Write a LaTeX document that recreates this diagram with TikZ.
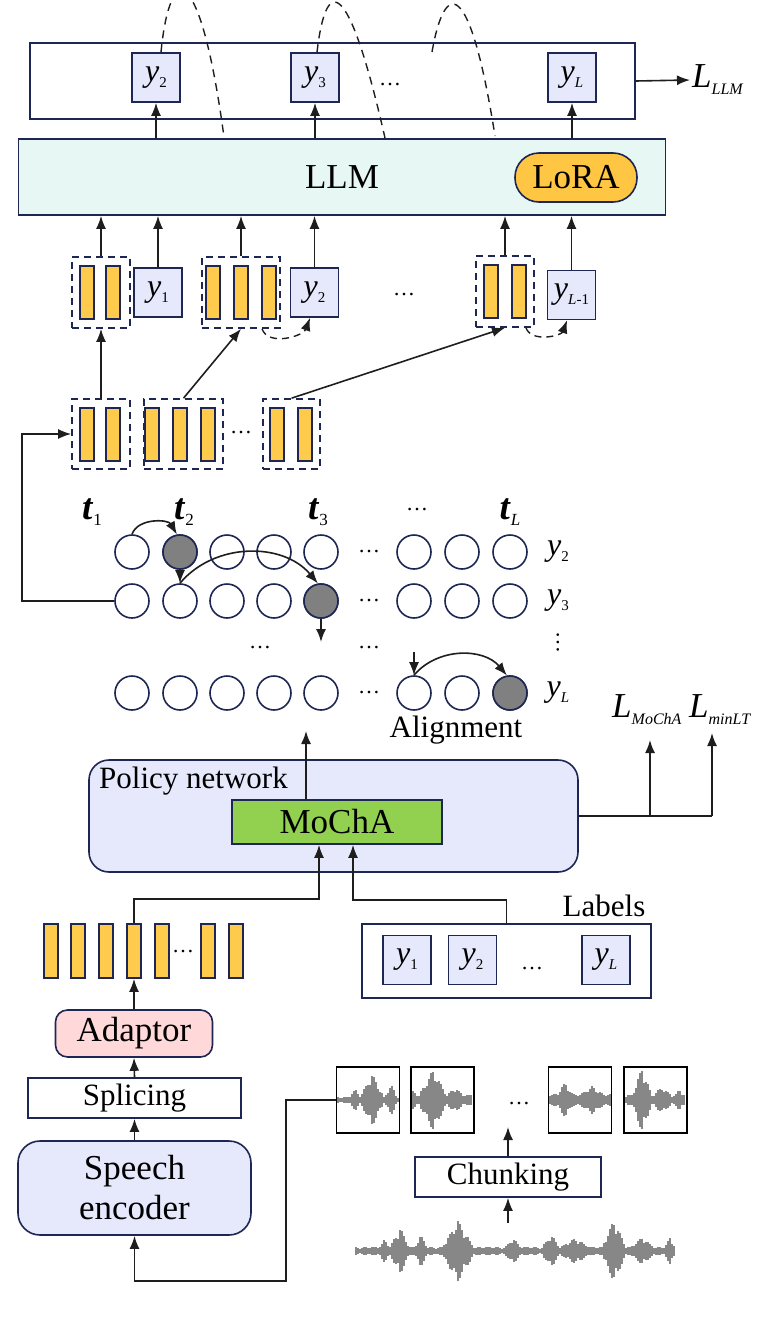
\documentclass[tikz,border=0pt]{standalone}
\usepackage{fontspec}
\setmainfont{Liberation Serif}
\usetikzlibrary{arrows.meta}

\definecolor{navyln}{RGB}{30,38,84}
\definecolor{lavfill}{RGB}{230,233,252}
\definecolor{llmfill}{RGB}{231,247,243}
\definecolor{barfill}{RGB}{255,203,77}
\definecolor{lorafill}{RGB}{255,198,68}
\definecolor{adfill}{RGB}{255,217,217}
\definecolor{mochafill}{RGB}{146,208,80}
\definecolor{hitfill}{RGB}{128,128,128}
\definecolor{lnk}{RGB}{30,30,30}
\definecolor{wavec}{RGB}{135,135,135}

\newcommand{\fbig}{\fontsize{35}{40}\selectfont}
\newcommand{\fmid}{\fontsize{31}{36}\selectfont}
\newcommand{\fy}{\fontsize{32}{32}\selectfont}
\newcommand{\ft}{\fontsize{37}{37}\selectfont}
\newcommand{\fdots}{\fontsize{22}{22}\selectfont}
\newcommand{\yv}[1]{\textit{y}\raisebox{-0.18em}{\fontsize{15}{15}\selectfont #1}}
\newcommand{\tv}[1]{\textbf{\textit{t}}\raisebox{-0.18em}{\fontsize{17}{17}\selectfont #1}}
\newcommand{\Lv}[1]{\textit{L}\raisebox{-0.2em}{\fontsize{16}{16}\selectfont\itshape #1}}

\tikzset{
  declare function={bump(\u,\m,\s)=max(0,1-abs(\u-\m)/\s);},
  line/.style={draw=lnk, line width=1.6pt},
  arr/.style={line, -{Latex[length=13pt,width=10pt]}},
  dashln/.style={line, line width=1.4pt, dash pattern=on 8pt off 6pt},
  dasharr/.style={arr, line width=1.4pt, dash pattern=on 7pt off 5pt},
  navybox/.style={draw=navyln, line width=1.6pt, inner sep=0pt},
  ybox/.style={navybox, fill=lavfill, minimum width=48pt, minimum height=49pt, font=\fy},
  bar/.style={navybox, fill=barfill, minimum width=14pt, minimum height=53pt},
  grp/.style={navybox, dash pattern=on 7pt off 5pt, minimum height=71pt},
  cell/.style={circle, navybox, minimum size=34pt},
  hit/.style={cell, fill=hitfill},
  dots/.style={font=\fdots, inner sep=0pt},
  wave/.style={draw=wavec, line width=1.1pt},
  chunkbox/.style={draw=black, line width=1.8pt, minimum width=63pt, minimum height=66pt, inner sep=0pt},
}

\begin{document}
\begin{tikzpicture}[x=1pt,y=-1pt]
\useasboundingbox (0,0) rectangle (758,1317);
\clip (0,0) rectangle (758,1317);

% LLM outputs
\node[navybox, minimum width=605pt, minimum height=76pt] (outbox) at (332.5,81) {};
\node[ybox] (yt2) at (156,77.5) {\yv{2}};
\node[ybox] (yt3) at (315,77.5) {\yv{3}};
\node[dots] (dt) at (390,85) {\textellipsis};
\node[ybox] (ytl) at (572,77.5) {\yv{\textit{L}}};
\node[anchor=west, inner sep=2pt, font=\fbig] (lllm) at (690,80) {\Lv{LLM}};
\draw[arr] (outbox.east) -- (lllm.west);

% LLM with LoRA
\node[navybox, fill=llmfill, minimum width=647pt, minimum height=76pt, font=\fbig] (llm) at (342,177) {LLM};
\node[navybox, fill=lorafill, rounded corners=24pt, minimum width=122pt, minimum height=49pt, font=\fbig] (lora) at (576,177.5) {LoRA};
\foreach \n in {yt2,yt3,ytl}
  \draw[arr] (\n.south |- llm.north) -- (\n.south);

% autoregressive feedback
\coordinate (r1) at (224,137);
\coordinate (r2) at (385,138);
\coordinate (s3) at (432,52);
\coordinate (r3) at (495,136);
\draw[dashln] ([xshift=5pt]yt2.north) .. controls (170,-40) and (200,-40) .. (r1);
\draw[dashln] ([xshift=2pt]yt3.north) .. controls (326,-25) and (348,-25) .. (r2);
\draw[dashln] (s3) .. controls (445,-22) and (470,-22) .. (r3);

% LLM inputs
\node[grp, minimum width=58pt] (g1) at (101,292.5) {};
\foreach \bx [count=\i] in {87,113} \node[bar] (b1-\i) at (\bx,292.5) {};
\node[ybox] (yb1) at (158,292.5) {\yv{1}};
\node[grp, minimum width=78pt] (g2) at (241,292.5) {};
\foreach \bx [count=\i] in {213,241,269} \node[bar] (b2-\i) at (\bx,292.5) {};
\node[ybox] (yb2) at (314.5,292.5) {\yv{2}};
\node[dots] (dm) at (404,295) {\textellipsis};
\node[grp, minimum width=58pt] (g3) at (505,291.5) {};
\foreach \bx [count=\i] in {491,519} \node[bar] (b3-\i) at (\bx,291.5) {};
\node[ybox] (ybl) at (571.5,295) {\yv{\textit{L}-1}};
\foreach \n in {g1,yb1,g2,yb2,g3,ybl}
  \draw[arr] (\n.north) -- (\n.north |- llm.south);
\draw[dasharr] (g2.-60) to[out=-70,in=-110] (yb2.-100);
\draw[dasharr] (g3.-60) to[out=-70,in=-110] (ybl.-100);

% selected chunks
\node[grp, minimum width=58pt, minimum height=70pt] (ga) at (101,434) {};
\foreach \bx [count=\i] in {87,113} \node[bar] (ba-\i) at (\bx,434.5) {};
\node[grp, minimum width=79pt, minimum height=70pt] (gb) at (183.5,434) {};
\foreach \bx [count=\i] in {152,180,208} \node[bar] (bb-\i) at (\bx,434.5) {};
\node[dots] (dc) at (241,433) {\textellipsis};
\node[grp, minimum width=57pt, minimum height=70pt] (gc) at (291.5,434) {};
\foreach \bx [count=\i] in {277,305} \node[bar] (bc-\i) at (\bx,434.5) {};
\draw[arr] (ga.north) -- (g1.south);
\draw[arr] (gb.north) -- (g2.south);
\draw[arr] (gc.north) -- (g3.south);

% alignment grid
\foreach \tx/\tl [count=\i] in {92/1,184/2,318/3,510/\textit{L}}
  \node[font=\ft] (t\i) at (\tx,512) {\tv{\tl}};
\node[dots] (dtt) at (417,510) {\textellipsis};
\foreach \r/\ry/\yl in {1/552/2,2/601/3,3/693/\textit{L}} {
  \foreach \c/\cx in {1/132,2/180,3/227,4/274,5/321,6/414,7/462,8/510}
    \node[cell] (c\r-\c) at (\cx,\ry) {};
  \node[dots] (dr\r) at (369,\ry) {\textellipsis};
  \node[font=\fy] (yr\r) at (558,\ry) {\yv{\yl}};
}
\foreach \h in {c1-2,c2-5,c3-8} \node[hit] at (\h) {};
\node[dots] (dg1) at (260,648) {\textellipsis};
\node[dots] (dg2) at (369,648) {\textellipsis};
\node[dots, rotate=90] (vd) at (558,642) {\textellipsis};
\coordinate (d2) at (321,642);
\coordinate (d3) at (414,652);
\draw[arr] (c1-1.north) to[out=70,in=120] (c1-2.100);
\draw[arr] (c1-2.south) -- (c2-2.north);
\draw[arr] (c2-2.north) to[out=50,in=130] (c2-5.100);
\draw[arr] (c2-5.south) -- (d2);
\draw[arr] (d3) -- (c3-6.north);
\draw[arr] (c3-6.north) to[out=50,in=130] (c3-8.100);
\node[font=\fmid] (align) at (456,730) {Alignment};
\coordinate (fb) at (22,601);
\draw[arr] (c2-1.west) -- (fb) |- (ga.west);

% policy network
\node[navybox, fill=lavfill, rounded corners=20pt, minimum width=489pt, minimum height=112pt] (pn) at (333.5,816) {};
\node[font=\fmid, anchor=west, inner sep=0pt] (pnt) at (99,781) {Policy network};
\node[navybox, fill=mochafill, minimum width=210pt, minimum height=44pt, font=\fbig] (mocha) at (337,822) {MoChA};
\coordinate (al) at (306,731);
\draw[arr] ([xshift=-31pt]mocha.north) -- (al);

% losses
\node[anchor=base west, inner sep=0pt, font=\fbig] (lmo) at (612,717) {\Lv{MoChA}};
\node[anchor=base west, inner sep=0pt, font=\fbig] (lmt) at (689,717) {\Lv{minLT}};
\coordinate (lj1) at (650,816);
\coordinate (lj2) at (712,816);
\coordinate (lt1) at (650,740);
\coordinate (lt2) at (712,733);
\draw[line] (pn.east) -- (lj2);
\draw[arr] (lj1) -- (lt1);
\draw[arr] (lj2) -- (lt2);

% speech features
\foreach \fx [count=\i] in {51,78,106,134,162,208,236}
  \node[bar, minimum height=54pt] (f\i) at (\fx,951) {};
\node[dots] (df) at (183,951) {\textellipsis};
\draw[arr] (f4.north) -- ++(0,-24) -| ([xshift=-18pt]mocha.south);

% labels
\node[navybox, minimum width=289pt, minimum height=74pt] (lab) at (506.5,961) {};
\node[font=\fmid] (labt) at (604,906) {Labels};
\node[ybox] (ly1) at (407,960) {\yv{1}};
\node[ybox] (ly2) at (472.5,960) {\yv{2}};
\node[dots] (dl) at (532,968) {\textellipsis};
\node[ybox] (lyl) at (606,960) {\yv{\textit{L}}};
\draw[arr] (lab.north) -- ++(0,-23) -| ([xshift=16pt]mocha.south);

% encoder stack
\node[navybox, fill=adfill, rounded corners=12pt, minimum width=157pt, minimum height=47pt, font=\fbig] (adp) at (134,1033.5) {Adaptor};
\node[navybox, minimum width=213pt, minimum height=40pt, font=\fmid] (spl) at (134.5,1098) {Splicing};
\node[navybox, fill=lavfill, rounded corners=22pt, minimum width=233pt, minimum height=94pt, align=center, font=\fbig] (enc) at (134.5,1188) {Speech\\encoder};
\draw[arr] (adp.north) -- (f4.south);
\draw[arr] (spl.north) -- (adp.south);
\draw[arr] (enc.north) -- (spl.south);

% chunked waveform
\foreach \x in {338,340,...,398} {
  \pgfmathsetmacro\a{(3+24*bump(\x,372,12)+14*bump(\x,391,6)+8*bump(\x,355,6))*(0.6+0.4*abs(sin(\x*19)))}
  \draw[wave] (\x,{1100-\a}) -- (\x,{1100+\a});
}
\foreach \x in {413,415,...,472} {
  \pgfmathsetmacro\a{(5+26*bump(\x,433,14)+8*bump(\x,455,8)+5*bump(\x,414,4))*(0.6+0.4*abs(sin(\x*19)))}
  \draw[wave] (\x,{1100-\a}) -- (\x,{1100+\a});
}
\foreach \x in {550,552,...,610} {
  \pgfmathsetmacro\a{(6+12*bump(\x,565,8)+8*bump(\x,592,12))*(0.6+0.4*abs(sin(\x*19)))}
  \draw[wave] (\x,{1100-\a}) -- (\x,{1100+\a});
}
\foreach \x in {626,628,...,685} {
  \pgfmathsetmacro\a{(5+28*bump(\x,642,10)+8*bump(\x,662,10)+6*bump(\x,680,5))*(0.6+0.4*abs(sin(\x*19)))}
  \draw[wave] (\x,{1100-\a}) -- (\x,{1100+\a});
}
\node[chunkbox] (ch1) at (368,1100) {};
\node[chunkbox] (ch2) at (442.5,1100) {};
\node[dots] (dch) at (519,1103) {\textellipsis};
\node[chunkbox] (ch3) at (580,1100) {};
\node[chunkbox] (ch4) at (655.5,1100) {};
\coordinate (inl) at (286,1281);
\draw[arr] (ch1.west) -| (inl) -| (enc.south);

% chunking of the input speech
\node[navybox, minimum width=186pt, minimum height=40pt, font=\fmid] (chk) at (508,1177) {Chunking};
\coordinate (chtop) at (508,1127);
\coordinate (wv) at (508,1223);
\draw[arr] (chk.north) -- (chtop);
\draw[arr] (wv) -- (chk.south);
\foreach \x in {356,358,...,675} {
  \pgfmathsetmacro\a{(4+20*bump(\x,400,10)+12*bump(\x,421,7)+8*bump(\x,385,6)+27*bump(\x,458,16)+9*bump(\x,513,8)+13*bump(\x,551,9)+9*bump(\x,575,15)+28*bump(\x,614,12)+10*bump(\x,642,12)+10*bump(\x,670,5))*(0.6+0.4*abs(sin(\x*19)))}
  \draw[wave] (\x,{1251-\a}) -- (\x,{1251+\a});
}
\end{tikzpicture}
\end{document}
